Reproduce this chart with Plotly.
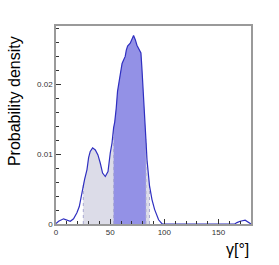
import numpy as np
import plotly.graph_objects as go

# Curve: gamma [deg] and probability density
gamma = [0, 2.4, 7, 10.1, 13.2, 16.2, 19.3, 21.5, 23.3, 24.6, 25.2, 26.4, 28.6, 30.1, 31.6,
         33.8, 36.3, 38.7, 40.9, 43, 45.5, 48, 50.1, 51.7, 53.2, 54.2, 55.6, 56.8, 59.3,
         61, 62.4, 63.9, 64.9, 66.1, 68.5, 70.1, 71.6, 73.2, 74.7, 77.1, 78.4, 79.3,
         80.3, 81.5, 82.4, 83, 84, 85.4, 86.3, 88.6, 91, 94.7, 98, 120, 140, 160, 165,
         167, 170, 174.6, 178.6, 180]
density = [0.00007, 0.0004, 0.00074, 0.00055, 0.0004, 0.00074, 0.0016, 0.0025, 0.004, 0.0054,
           0.0058, 0.0064, 0.0078, 0.0095, 0.0104, 0.0109, 0.0106, 0.0099, 0.0087, 0.0073,
           0.0068, 0.0075, 0.0102, 0.0116, 0.0138, 0.0146, 0.0166, 0.019, 0.0214, 0.023,
           0.0235, 0.024, 0.0249, 0.0255, 0.0259, 0.0264, 0.027, 0.0264, 0.0256, 0.0249,
           0.0245, 0.0223, 0.0199, 0.0171, 0.0142, 0.0121, 0.0092, 0.0064, 0.0055, 0.0035,
           0.0021, 0.0006, 0.0, 0.0, 0.0, 0.0, 0.0, 0.0002, 0.0004, 0.00054, 0.00017, 0.0]

outer_band = [25.2, 86.3]
inner_band = [53.2, 83.0]

x_ticks = [0, 50, 100, 150]
y_ticks = [0, 0.01, 0.02]

LINE = "#2f2fc0"
DARK = "#9391e6"
LIGHT = "#dcdce8"

g = np.array(gamma)
d = np.array(density)

fig = go.Figure()

def band_trace(lo, hi, color):
    m = (g >= lo) & (g <= hi)
    return go.Scatter(x=g[m], y=d[m], mode="lines", line=dict(width=0, color=color),
                      fill="tozeroy", fillcolor=color, hoverinfo="skip", showlegend=False)

fig.add_trace(band_trace(outer_band[0], outer_band[1], LIGHT))
fig.add_trace(band_trace(inner_band[0], inner_band[1], DARK))

for b in outer_band + inner_band:
    fig.add_trace(go.Scatter(x=[b, b], y=[0, float(np.interp(b, g, d))], mode="lines",
                             line=dict(color="#a8a8d0", width=1, dash="dot"),
                             hoverinfo="skip", showlegend=False))

fig.add_trace(go.Scatter(x=gamma, y=density, mode="lines", line=dict(color=LINE, width=1.2),
                         showlegend=False))

axis_common = dict(showline=True, mirror=True, linecolor="#9a9a9a", linewidth=1.5,
                   showgrid=False, zeroline=False, ticks="inside", ticklen=5,
                   tickcolor="#333333", tickwidth=1,
                   tickfont=dict(family="Liberation Sans, Arial", size=8, color="#333333"))

fig.update_layout(
    width=279, height=265,
    margin=dict(l=56, r=28, t=26, b=40.5),
    paper_bgcolor="white", plot_bgcolor="white",
    xaxis=dict(range=[0, 180], tickvals=x_ticks, ticktext=[str(v) for v in x_ticks],
               minor=dict(dtick=10, tick0=0, ticks="inside", ticklen=3, tickcolor="#333333"),
               **axis_common),
    yaxis=dict(range=[0, 0.02836], tickvals=y_ticks, ticktext=["0", "0.01", "0.02"],
               minor=dict(dtick=0.002, tick0=0, ticks="inside", ticklen=3, tickcolor="#333333"),
               **axis_common),
    annotations=[
        dict(text="Probability density", xref="paper", yref="paper", x=-0.209, y=0.622,
             textangle=-90, showarrow=False, xanchor="center", yanchor="middle",
             font=dict(family="Liberation Sans, Arial", size=16, color="black")),
        dict(text="γ[°]", xref="paper", yref="paper", x=1.0, y=-0.13,
             showarrow=False, xanchor="right", yanchor="middle",
             font=dict(family="Liberation Sans, Arial", size=16, color="black")),
    ],
)

fig.write_html("out.html", config={"displayModeBar": False},
               post_script="document.body.style.margin='0';document.body.style.overflow='hidden';")
